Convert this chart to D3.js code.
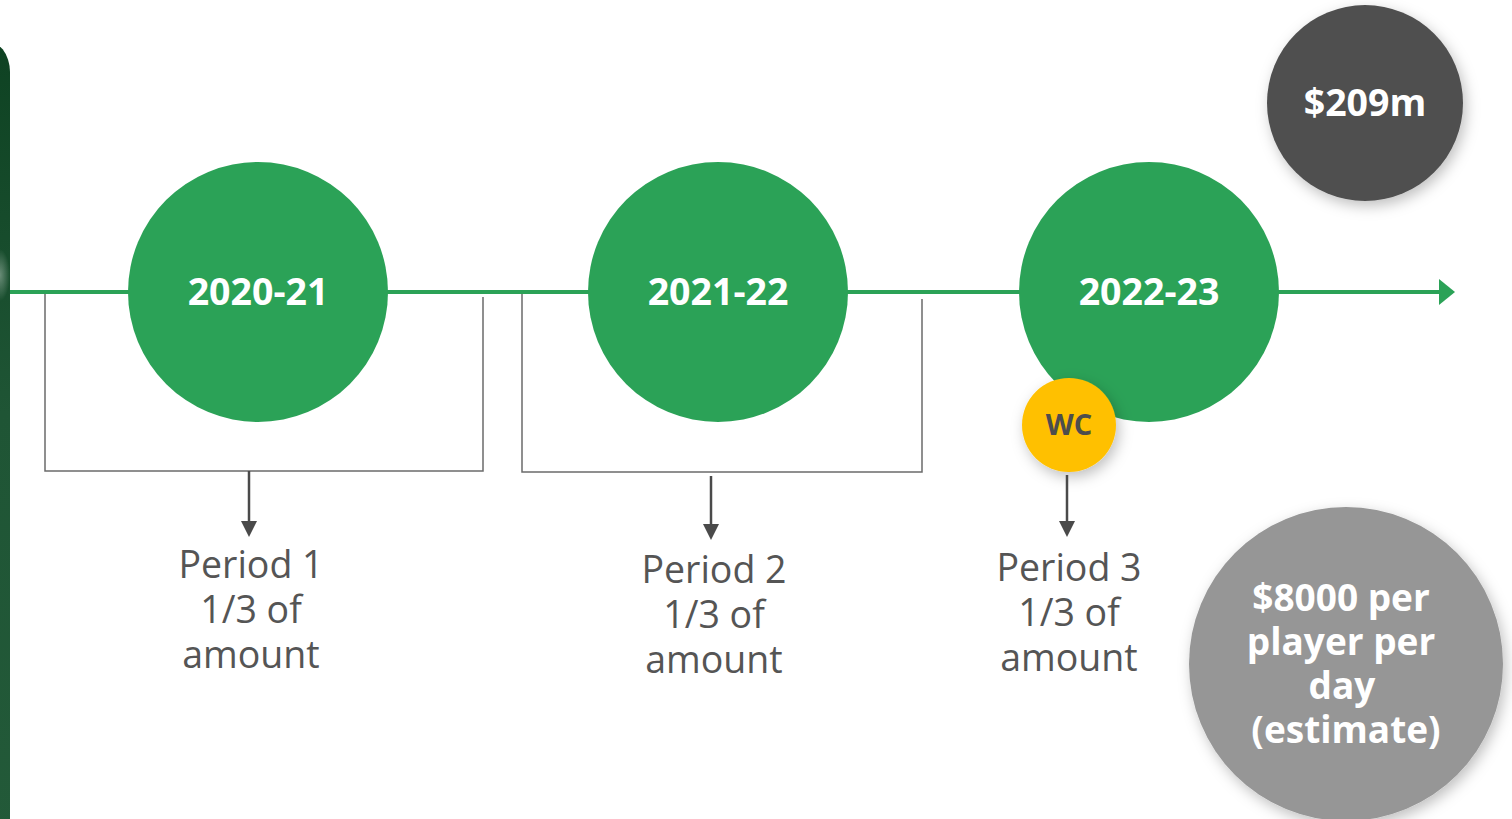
<!DOCTYPE html>
<html>
<head>
<meta charset="utf-8">
<script src="https://cdn.jsdelivr.net/npm/d3@7"></script>
<style>
  html, body { margin: 0; padding: 0; background: #fff; overflow: hidden; }
  text { font-family: "Open Sans", "Noto Sans", sans-serif; }
</style>
</head>
<body>
<div id="chart"></div>
<script>
// data
var seasons = ["2020-21", "2021-22", "2022-23"];
var periodNames = ["Period 1", "Period 2", "Period 3"];
var periodShare = ["1/3 of", "1/3 of", "1/3 of"];
var periodUnit = ["amount", "amount", "amount"];
var totalLabel = ["$209m"];
var dailyLabel = ["$8000 per", "player per", "day", "(estimate)"];
var wcLabel = "WC";

var svgWidth = 1512;
var svgHeight = 819;
var lineY = 292;

var svg = d3.select("#chart")
  .append("svg")
  .attr("width", svgWidth)
  .attr("height", svgHeight);

var defs = svg.append("defs");

var grad = defs.append("linearGradient")
  .attr("id", "panelGrad")
  .attr("x1", 0).attr("y1", 0).attr("x2", 0).attr("y2", 1);
grad.append("stop").attr("offset", "0%").attr("stop-color", "#0e4222");
grad.append("stop").attr("offset", "45%").attr("stop-color", "#1f5535");
grad.append("stop").attr("offset", "100%").attr("stop-color", "#235a39");

var shine = defs.append("radialGradient").attr("id", "shine");
shine.append("stop").attr("offset", "0%").attr("stop-color", "#ffffff").attr("stop-opacity", 0.35);
shine.append("stop").attr("offset", "100%").attr("stop-color", "#ffffff").attr("stop-opacity", 0);

var shadow = defs.append("filter")
  .attr("id", "shadow")
  .attr("x", "-30%").attr("y", "-30%").attr("width", "160%").attr("height", "160%");
shadow.append("feDropShadow")
  .attr("dx", 3).attr("dy", 5).attr("stdDeviation", 7)
  .attr("flood-color", "#000").attr("flood-opacity", 0.25);

// scales
var x = d3.scaleOrdinal().domain(seasons).range([258, 718, 1149]);
var bracketLeft = d3.scaleOrdinal().domain(periodNames).range([45, 522, null]);
var bracketRight = d3.scaleOrdinal().domain(periodNames).range([483, 922, null]);
var arrowX = d3.scaleOrdinal().domain(periodNames).range([249, 711, 1067]);
var textX = d3.scaleOrdinal().domain(periodNames).range([251, 714, 1069]);
var textY = d3.scaleOrdinal().domain(periodNames).range([565, 570, 568]);

// left panel
svg.append("rect")
  .attr("x", -40).attr("y", 40)
  .attr("width", 50).attr("height", 830)
  .attr("rx", 32)
  .attr("fill", "url(#panelGrad)");
svg.append("ellipse")
  .attr("cx", 0).attr("cy", 275)
  .attr("rx", 10).attr("ry", 26)
  .attr("fill", "url(#shine)");

// brackets (behind the circles)
var brackets = periodNames.slice(0, 2);
var bracketTop = [292, 292];
var bracketTopR = [297, 299];
var bracketBottom = [471, 472];
brackets.forEach(function(p, i) {
  svg.append("path")
    .attr("d", "M" + bracketLeft(p) + "," + bracketTop[i] +
      "V" + bracketBottom[i] +
      "H" + bracketRight(p) +
      "V" + bracketTopR[i])
    .attr("fill", "none")
    .attr("stroke", "#6b6b6b")
    .attr("stroke-width", 1.5);
});

// timeline
var lineEnd = 1440;
svg.append("line")
  .attr("x1", 10).attr("x2", lineEnd)
  .attr("y1", lineY).attr("y2", lineY)
  .attr("stroke", "#2ba257")
  .attr("stroke-width", 4);
svg.append("path")
  .attr("d", `M${lineEnd - 1},${lineY - 13}L${lineEnd + 15},${lineY}L${lineEnd - 1},${lineY + 13}Z`)
  .attr("fill", "#2ba257");

// season circles
var seasonGroups = svg.selectAll(".season")
  .data(seasons)
  .enter()
  .append("g")
  .attr("class", "season")
  .attr("transform", d => `translate(${x(d)}, ${lineY})`);

seasonGroups.append("circle")
  .attr("r", 130)
  .attr("fill", "#2ba257");

seasonGroups.append("text")
  .attr("text-anchor", "middle")
  .attr("dy", "0.35em")
  .attr("fill", "#fff")
  .style("font-size", "37.5px")
  .style("font-weight", 700)
  .text(d => d);

// WC marker
var wc = svg.append("g")
  .attr("transform", "translate(1069, 425)");
wc.append("circle")
  .attr("r", 47)
  .attr("fill", "#ffc000")
  .attr("filter", "url(#shadow)");
wc.append("text")
  .attr("text-anchor", "middle")
  .attr("dy", "0.35em")
  .attr("fill", "#4d4d4d")
  .style("font-size", "29px")
  .style("font-weight", 700)
  .text(wcLabel);

// down arrows
var arrowTop = [471, 476, 475];
var arrowEnd = [537, 540, 537];
periodNames.forEach(function(p, i) {
  var ax = arrowX(p);
  svg.append("line")
    .attr("x1", ax).attr("x2", ax)
    .attr("y1", arrowTop[i]).attr("y2", arrowEnd[i] - 14)
    .attr("stroke", "#4a4a4a")
    .attr("stroke-width", 2.5);
  svg.append("path")
    .attr("d", `M${ax - 8},${arrowEnd[i] - 16}L${ax + 8},${arrowEnd[i] - 16}L${ax},${arrowEnd[i]}Z`)
    .attr("fill", "#4a4a4a");
});

// period labels
periodNames.forEach(function(p, i) {
  var t = svg.append("text")
    .attr("text-anchor", "middle")
    .attr("fill", "#555555")
    .style("font-size", "37.5px");
  [periodNames[i], periodShare[i], periodUnit[i]].forEach(function(s, j) {
    t.append("tspan")
      .attr("x", textX(p))
      .attr("y", textY(p) + j * 45)
      .attr("dy", "0.35em")
      .text(s);
  });
});

// total amount bubble
var total = svg.append("g")
  .attr("transform", "translate(1365, 103)");
total.append("circle")
  .attr("r", 98)
  .attr("fill", "#505050")
  .attr("filter", "url(#shadow)");
total.append("text")
  .attr("x", 0)
  .attr("text-anchor", "middle")
  .attr("dy", "0.35em")
  .attr("fill", "#fff")
  .style("font-size", "37.5px")
  .style("font-weight", 700)
  .text(totalLabel[0]);

// daily estimate bubble
var dailyOffset = [-5, -5, -4, 0];
var daily = svg.append("g")
  .attr("transform", "translate(1346, 664)");
daily.append("circle")
  .attr("r", 157)
  .attr("fill", "#969696")
  .attr("filter", "url(#shadow)");
var dt = daily.append("text")
  .attr("text-anchor", "middle")
  .attr("fill", "#fff")
  .style("font-size", "37px")
  .style("font-weight", 700);
dailyLabel.forEach(function(s, j) {
  dt.append("tspan")
    .attr("x", dailyOffset[j])
    .attr("y", -66 + j * 44)
    .attr("dy", "0.35em")
    .text(s);
});
</script>
</body>
</html>
